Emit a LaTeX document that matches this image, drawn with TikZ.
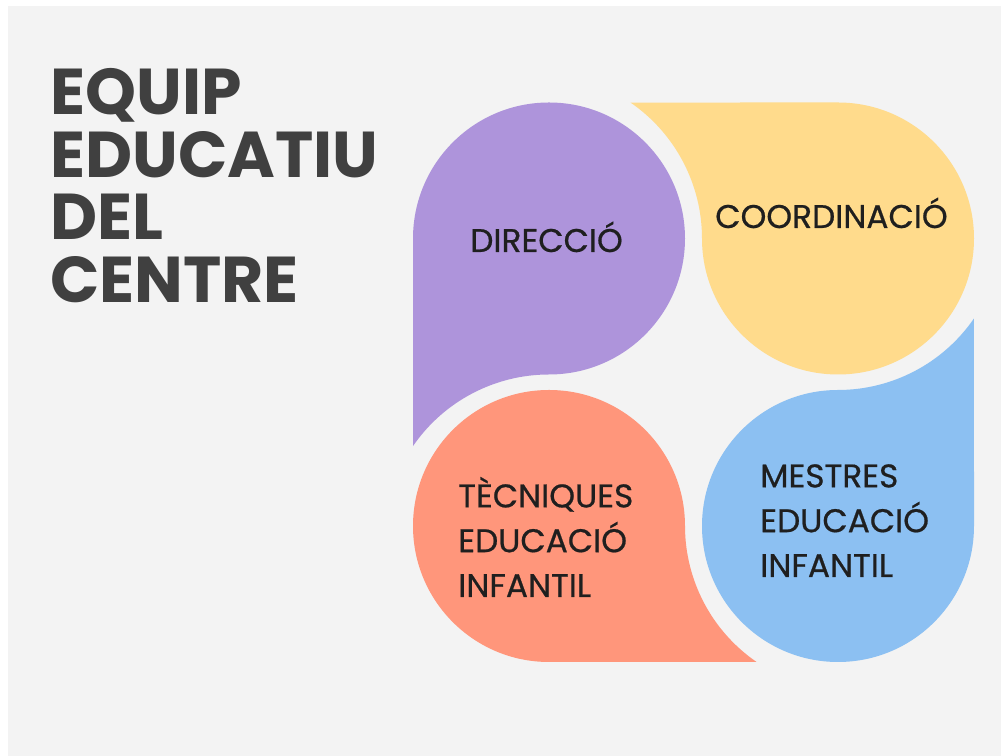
\documentclass[tikz,border=0pt]{standalone}
\usepackage{fontspec}
\setmainfont{Poppins}
\newfontfamily\labfont{Poppins}[FakeBold=0.6]
\definecolor{bgc}{HTML}{F3F3F3}
\definecolor{purp}{HTML}{AE94DB}
\definecolor{yell}{HTML}{FFDB8C}
\definecolor{blu}{HTML}{8CC0F2}
\definecolor{oran}{HTML}{FF967B}
\definecolor{titlec}{HTML}{404040}
\definecolor{labc}{HTML}{1F1F1F}
\tikzset{
  teardroppath/.style={insert path={(-136,0) arc[start angle=180,end angle=-90,radius=136] arc[start angle=90,end angle=145.5,radius=165] -- cycle}},
  titletext/.style={anchor=base west, inner sep=0pt, text=titlec, font=\bfseries\fontsize{48.6}{60}\selectfont},
  labtext/.style={anchor=base west, inner sep=0pt, text=labc, align=left, font=\labfont\fontsize{24.6}{33.6}\selectfont}
}
\begin{document}
\begin{tikzpicture}[x=0.75pt,y=0.75pt]
\useasboundingbox (0,0) rectangle (1001,756);
\fill[white] (0,0) rectangle (1001,756);
\fill[bgc] (8,0) rectangle (1001,750);
\fill[purp, shift={(549,517.5)}, teardroppath];
\fill[yell, shift={(838,517.5)}, rotate=-90, teardroppath];
\fill[blu, shift={(838,230)}, rotate=180, teardroppath];
\fill[oran, shift={(549,230)}, rotate=90, teardroppath];
\node[titletext] (t1) at (50,641) {EQUIP};
\node[titletext] (t2) at (50,578) {EDUCATIU};
\node[titletext] (t3) at (50,516) {DEL};
\node[titletext] (t4) at (50,453) {CENTRE};
\node[labtext] (dir) at (470,504) {DIRECCIÓ};
\node[labtext] (coord) at (715,528) {COORDINACIÓ};
\node[labtext] (tec) at (458,159) {TÈCNIQUES\\EDUCACIÓ\\INFANTIL};
\node[labtext] (mes) at (760,179) {MESTRES\\EDUCACIÓ\\INFANTIL};
\end{tikzpicture}
\end{document}
